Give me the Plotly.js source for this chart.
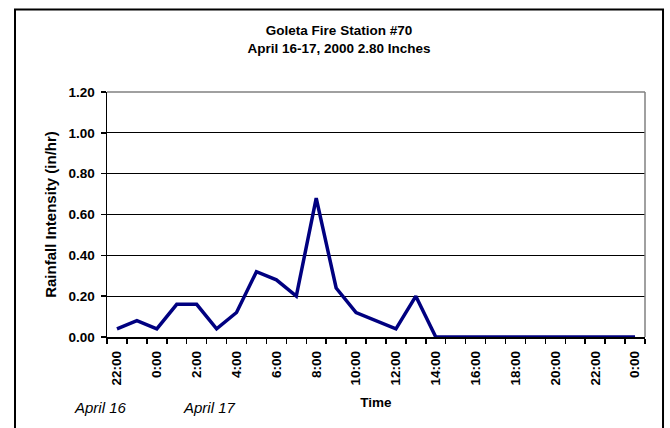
<!DOCTYPE html>
<html>
<head>
<meta charset="utf-8">
<script src="https://cdn.plot.ly/plotly-3.0.1.min.js"></script>
<style>
  html, body { margin: 0; padding: 0; background: #fff; }
  #chart { width: 670px; height: 428px; }
</style>
</head>
<body>
<div id="chart"></div>
<script>
// Hourly time labels, April 16 22:00 through April 18 0:00
const hourLabels = ['22:00','23:00','0:00','1:00','2:00','3:00','4:00','5:00','6:00','7:00',
  '8:00','9:00','10:00','11:00','12:00','13:00','14:00','15:00','16:00','17:00',
  '18:00','19:00','20:00','21:00','22:00','23:00','0:00'];
// Rainfall intensity (in/hr)
const intensity = [0.04, 0.08, 0.04, 0.16, 0.16, 0.04, 0.12, 0.32, 0.28, 0.20,
  0.68, 0.24, 0.12, 0.08, 0.04, 0.20, 0.00, 0.00, 0.00, 0.00,
  0.00, 0.00, 0.00, 0.00, 0.00, 0.00, 0.00];
const dayLabels = ['April 16', 'April 17'];
const titleLines = ['Goleta Fire Station #70', 'April 16-17, 2000 2.80 Inches'];

const xIdx = hourLabels.map((_, i) => i);
const labelIdx = xIdx.filter(i => i % 2 === 0);
const labelText = labelIdx.map(i => hourLabels[i]);

const FONT = 'Liberation Sans, Arial, sans-serif';

const trace = {
  x: xIdx, y: intensity, type: 'scatter', mode: 'lines',
  line: { color: '#000080', width: 3.5 },
  hoverinfo: 'skip'
};

const layout = {
  width: 670, height: 428,
  margin: { l: 107, r: 25, t: 92, b: 91, pad: 0 },
  paper_bgcolor: '#fff', plot_bgcolor: '#fff',
  showlegend: false,
  font: { family: FONT, color: '#000' },
  title: {
    text: titleLines.join('<br>'),
    font: { family: FONT, size: 13.5, weight: 'bold', color: '#000' },
    xref: 'container', x: 0.506, xanchor: 'center',
    yref: 'container', y: 0.918, yanchor: 'top'
  },
  xaxis: {
    range: [-0.5, hourLabels.length - 0.5],
    tickmode: 'array', tickvals: labelIdx, ticktext: labelText,
    tickangle: -90, ticks: '', ticklabelstandoff: 7,
    tickfont: { family: FONT, size: 13.5, weight: 'bold', color: '#000' },
    showgrid: false, zeroline: false,
    showline: true, linecolor: '#000', linewidth: 1.5,
    minor: { ticks: 'outside', tick0: -0.5, dtick: 1, ticklen: 5, tickwidth: 1.5, tickcolor: '#000', showgrid: false },
    title: { text: 'Time', font: { family: FONT, size: 13.5, weight: 'bold', color: '#000' }, standoff: 13 },
    fixedrange: true
  },
  yaxis: {
    range: [0, 1.2], dtick: 0.2, tick0: 0, tickformat: '.2f',
    ticks: 'outside', ticklen: 5, tickwidth: 1.5, tickcolor: '#000', ticklabelstandoff: 3,
    tickfont: { family: FONT, size: 13.5, weight: 'bold', color: '#000' },
    showgrid: true, gridcolor: '#000', gridwidth: 1,
    zeroline: false,
    showline: true, linecolor: '#000', linewidth: 1.5,
    title: { text: 'Rainfall Intensity (in/hr)', font: { family: FONT, size: 15, weight: 'bold', color: '#000' }, standoff: 8 },
    fixedrange: true
  },
  annotations: dayLabels.map((t, i) => ({
    text: t, xref: 'paper', yref: 'paper',
    x: [-0.013, 0.190][i], y: -0.2876, xanchor: 'center', yanchor: 'middle',
    showarrow: false,
    font: { family: FONT, size: 15, style: 'italic', color: '#000' }
  })),
  shapes: [
    { type: 'line', xref: 'paper', yref: 'paper', x0: 0, x1: 1, y0: 1, y1: 1, line: { color: '#808080', width: 1.5 }, layer: 'above' },
    { type: 'line', xref: 'paper', yref: 'paper', x0: 1, x1: 1, y0: 0, y1: 1, line: { color: '#808080', width: 1.5 }, layer: 'above' },
    { type: 'rect', xref: 'paper', yref: 'paper', x0: -0.171, x1: 1.0335, y0: -0.4, y1: 1.337, line: { color: '#000', width: 2 }, fillcolor: 'rgba(0,0,0,0)', layer: 'above' }
  ]
};

Plotly.newPlot('chart', [trace], layout, { displayModeBar: false, staticPlot: true });
</script>
</body>
</html>
